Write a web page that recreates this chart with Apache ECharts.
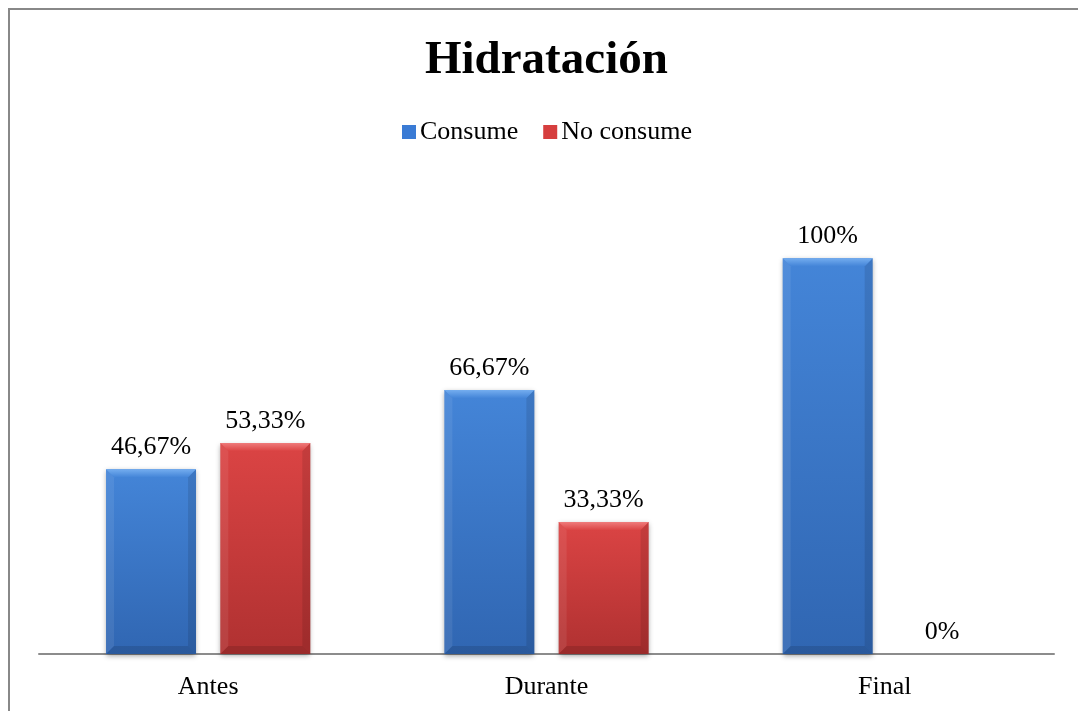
<!DOCTYPE html>
<html>
<head>
<meta charset="utf-8">
<script src="https://cdn.jsdelivr.net/npm/echarts@6/dist/echarts.min.js"></script>
<style>
  html, body { margin: 0; padding: 0; background: #fff; }
  #chart { width: 1078px; height: 711px; }
</style>
</head>
<body>
<div id="chart"></div>
<script>
var categories = ['Antes', 'Durante', 'Final'];
var consume = [46.67, 66.67, 100];
var noConsume = [53.33, 33.33, 0];
var seriesNames = ['Consume', 'No consume'];

var font = '"Liberation Serif", "Times New Roman", serif';

// bevel colours per series: [bevel top, body top, body bottom]
var palettes = [
  ['#74adef', '#4485d8', '#3066b2'],
  ['#ef7b7b', '#db4444', '#b03131']
];

function pct(v) {
  return String(v).replace('.', ',') + '%';
}

// draws one bevelled bar, placed from the category scale
function renderBevelBar(params, api) {
  var idx = params.seriesIndex;
  var cat = api.value(0);
  var val = api.value(1);
  var base = api.coord([cat, 0]);
  var top = api.coord([cat, val]);
  var band = api.size([1, 0])[0];
  var w = band * 0.266;
  var gap = w * 0.27;
  var x0 = base[0] - (2 * w + gap) / 2 + idx * (w + gap);
  var y0 = top[1];
  var y1 = base[1];
  var h = y1 - y0;
  var b = Math.min(8, h / 2);
  var pal = palettes[idx];
  var children = [];

  if (h > 0) {
    children.push({
      type: 'rect',
      shape: { x: x0, y: y0, width: w, height: h },
      style: {
        fill: new echarts.graphic.LinearGradient(0, 0, 0, 1, [
          { offset: 0, color: pal[1] },
          { offset: 1, color: pal[2] }
        ]),
        shadowColor: 'rgba(0,0,0,0.35)', shadowBlur: 5, shadowOffsetY: 2
      }
    });
    // left side
    children.push({
      type: 'polygon',
      shape: { points: [[x0, y0], [x0 + b, y0 + b], [x0 + b, y1 - b], [x0, y1]] },
      style: { fill: 'rgba(255,255,255,0.08)' }
    });
    // right side
    children.push({
      type: 'polygon',
      shape: { points: [[x0 + w, y0], [x0 + w - b, y0 + b], [x0 + w - b, y1 - b], [x0 + w, y1]] },
      style: { fill: 'rgba(0,0,0,0.10)' }
    });
    // bottom
    children.push({
      type: 'polygon',
      shape: { points: [[x0, y1], [x0 + b, y1 - b], [x0 + w - b, y1 - b], [x0 + w, y1]] },
      style: { fill: 'rgba(0,0,0,0.12)' }
    });
    // top bevel
    children.push({
      type: 'polygon',
      shape: { points: [[x0, y0], [x0 + w, y0], [x0 + w - b, y0 + b], [x0 + b, y0 + b]] },
      style: {
        fill: new echarts.graphic.LinearGradient(0, 0, 0, 1, [
          { offset: 0, color: pal[0] },
          { offset: 1, color: pal[1] }
        ])
      }
    });
  }

  children.push({
    type: 'text',
    style: {
      text: pct(val),
      x: x0 + w / 2,
      y: y0 - 9,
      align: 'center',
      verticalAlign: 'bottom',
      fill: '#000',
      fontSize: 26,
      fontFamily: font
    }
  });

  return { type: 'group', children: children };
}

function toPoints(values) {
  return values.map(function (v, i) { return [i, v]; });
}

var chart = echarts.init(document.getElementById('chart'));

var option = {
  animation: false,
  backgroundColor: '#fff',
  title: {
    text: 'Hidratación',
    left: 425,
    top: 37,
    padding: 0,
    textStyle: { fontFamily: font, fontSize: 47, fontWeight: 'bold', color: '#000' }
  },
  legend: {
    top: 119,
    left: 402,
    padding: 0,
    itemWidth: 14,
    itemHeight: 14,
    itemGap: 25,
    icon: 'rect',
    textStyle: { fontFamily: font, fontSize: 26, color: '#000', padding: [0, 0, 0, -1] },
    data: seriesNames
  },
  graphic: [{
    type: 'polyline',
    shape: { points: [[9, 711], [9, 9], [1078, 9]] },
    style: { stroke: '#888', lineWidth: 2, fill: null }
  }],
  grid: { left: 39, right: 24, top: 179, bottom: 57 },
  xAxis: {
    type: 'category',
    data: categories,
    axisLine: { lineStyle: { color: '#8c8c8c', width: 2 } },
    axisTick: { show: false },
    axisLabel: { fontFamily: font, fontSize: 26, color: '#000', margin: 20 }
  },
  yAxis: {
    type: 'value',
    min: 0,
    max: 120,
    show: false,
    splitLine: { show: false }
  },
  series: [{
    name: seriesNames[0],
    type: 'custom',
    renderItem: renderBevelBar,
    encode: { x: 0, y: 1 },
    itemStyle: { color: '#3a7bd5' },
    data: toPoints(consume)
  }, {
    name: seriesNames[1],
    type: 'custom',
    renderItem: renderBevelBar,
    encode: { x: 0, y: 1 },
    itemStyle: { color: '#d63e3e' },
    data: toPoints(noConsume)
  }]
};

chart.setOption(option);
window.addEventListener('resize', function () {
  chart.resize();
});
</script>
</body>
</html>
